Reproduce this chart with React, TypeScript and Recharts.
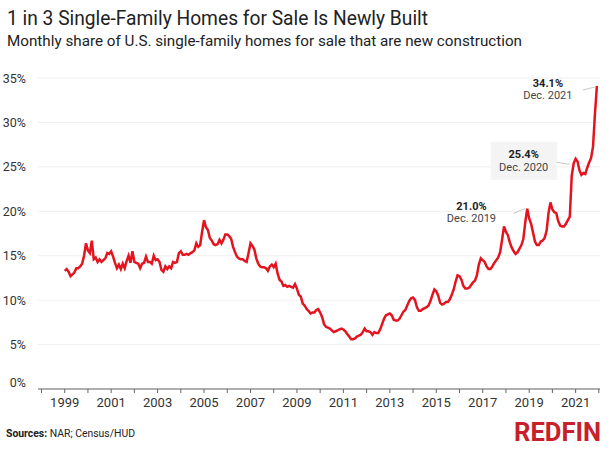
import React from "react";
import {
  LineChart,
  Line,
  XAxis,
  YAxis,
  CartesianGrid,
  ReferenceDot,
} from "recharts";

// monthly share (%) of single-family homes for sale that are new construction, Jan..Dec
const YEARS = [
  1999, 2000, 2001, 2002, 2003, 2004, 2005, 2006, 2007, 2008, 2009, 2010,
  2011, 2012, 2013, 2014, 2015, 2016, 2017, 2018, 2019, 2020, 2021,
];
const v1999 = [13.3, 13.5, 13.2, 12.7, 12.9, 13.1, 13.6, 13.6, 13.8, 14.1, 15.0, 16.4];
const v2000 = [15.6, 15.3, 16.7, 14.6, 14.8, 14.3, 14.6, 14.3, 14.5, 14.7, 15.3, 15.2];
const v2001 = [15.5, 14.9, 14.2, 13.6, 14.0, 13.5, 14.1, 13.6, 14.4, 15.0, 14.2, 15.5];
const v2002 = [14.3, 14.2, 14.1, 13.6, 14.1, 14.2, 14.9, 14.3, 14.3, 14.1, 15.0, 14.5];
const v2003 = [14.6, 14.3, 13.4, 13.2, 13.8, 13.5, 13.8, 13.6, 14.3, 14.2, 14.3, 15.3];
const v2004 = [15.5, 15.1, 15.1, 15.2, 15.1, 15.3, 15.4, 15.6, 16.4, 16.0, 16.2, 17.7];
const v2005 = [19.0, 18.2, 17.9, 17.0, 16.7, 16.3, 16.2, 16.3, 16.8, 16.4, 16.8, 17.4];
const v2006 = [17.4, 17.2, 16.9, 16.0, 15.4, 14.9, 14.7, 14.6, 14.6, 14.4, 14.3, 15.3];
const v2007 = [16.4, 16.1, 15.7, 14.7, 14.1, 13.8, 13.7, 13.7, 13.6, 13.3, 13.8, 14.0];
const v2008 = [13.7, 14.1, 13.0, 12.3, 12.1, 11.6, 11.7, 11.5, 11.6, 11.5, 11.4, 11.8];
const v2009 = [11.3, 10.6, 10.4, 9.6, 9.4, 9.0, 8.8, 8.5, 8.6, 8.6, 8.9, 9.0];
const v2010 = [8.6, 8.1, 7.3, 7.0, 6.9, 6.8, 6.6, 6.4, 6.5, 6.6, 6.7, 6.8];
const v2011 = [6.7, 6.5, 6.2, 5.9, 5.6, 5.6, 5.7, 5.9, 6.0, 6.1, 6.4, 6.8];
const v2012 = [6.5, 6.5, 6.4, 6.1, 6.4, 6.3, 6.3, 6.7, 7.3, 7.9, 8.3, 8.4];
const v2013 = [8.5, 8.3, 7.8, 7.7, 7.7, 7.9, 8.3, 8.7, 8.9, 9.4, 9.9, 10.2];
const v2014 = [10.3, 10.0, 9.2, 8.8, 8.8, 9.0, 9.1, 9.2, 9.4, 9.9, 10.6, 11.2];
const v2015 = [11.0, 10.5, 9.7, 9.5, 9.6, 9.8, 9.8, 10.1, 10.6, 11.2, 12.1, 12.8];
const v2016 = [12.7, 12.3, 11.6, 11.3, 11.3, 11.4, 11.7, 12.0, 12.2, 12.8, 14.0, 14.7];
const v2017 = [14.5, 14.3, 13.8, 13.5, 13.5, 13.8, 14.2, 14.5, 14.8, 15.4, 16.8, 18.3];
const v2018 = [17.7, 17.3, 16.5, 15.9, 15.5, 15.2, 15.4, 15.8, 16.2, 16.9, 18.8, 20.3];
const v2019 = [19.2, 18.6, 17.6, 16.6, 16.2, 16.2, 16.6, 16.7, 17.0, 17.8, 19.8, 21.0];
const v2020 = [20.2, 19.9, 19.8, 18.9, 18.4, 18.3, 18.3, 18.6, 19.0, 19.4, 24.0, 25.4];
const v2021 = [25.9, 25.6, 24.6, 24.1, 24.3, 24.2, 24.9, 25.5, 26.0, 27.3, 31.0, 34.1];

const SERIES = [
  v1999, v2000, v2001, v2002, v2003, v2004, v2005, v2006, v2007, v2008, v2009, v2010,
  v2011, v2012, v2013, v2014, v2015, v2016, v2017, v2018, v2019, v2020, v2021,
];

const X_TICKS = [
  1998, 1999, 2000, 2001, 2002, 2003, 2004, 2005, 2006, 2007, 2008, 2009, 2010,
  2011, 2012, 2013, 2014, 2015, 2016, 2017, 2018, 2019, 2020, 2021, 2022,
];
const Y_TICKS = [0, 5, 10, 15, 20, 25, 30, 35];

// callouts on the December peaks
const CALLOUT_YEARS = [2019, 2020, 2021];
const CALLOUT_VALUES = [21.0, 25.4, 34.1];
const CALLOUT_DATES = ["Dec. 2019", "Dec. 2020", "Dec. 2021"];

const data = YEARS.flatMap((year, i) =>
  SERIES[i].map((v, m) => ({ t: year + m / 12, share: v }))
);

const FONT = "Roboto, 'Noto Sans', sans-serif";
const RED = "#e3141f";

function YTick({ x, y, payload }: any) {
  const lift = payload.value === 0 ? 7 : 0;
  return (
    <text
      x={x}
      y={y - lift}
      dy="0.36em"
      textAnchor="end"
      fill="#333"
      fontSize={12.5}
      fontFamily={FONT}
    >
      {payload.value}%
    </text>
  );
}

// offsets of each callout relative to its data point
const CALLOUT_LAYOUT = [
  { dx: -79, dy: 7.5, line: [-37, 11, -25, 6], box: false },
  { dx: -50, dy: -5, line: [-17, -1, -4, 1], box: true },
  { dx: -49, dy: 1, line: [-14, 4, -2, 1], box: false },
];

function Callout(props: any) {
  const { cx, cy, idx } = props;
  if (cx === undefined || cy === undefined) return null;
  const lay = CALLOUT_LAYOUT[idx];
  const [x1, y1, x2, y2] = lay.line;
  return (
    <g>
      {lay.box && (
        <rect x={cx - 83} y={cy - 21.5} width={66.5} height={38} fill="#f4f4f4" />
      )}
      <line
        x1={cx + x1}
        y1={cy + y1}
        x2={cx + x2}
        y2={cy + y2}
        stroke="#c8c8c8"
        strokeWidth={1}
      />
      <text
        x={cx + lay.dx}
        y={cy + lay.dy}
        textAnchor="middle"
        fontSize={11}
        fontWeight={700}
        fill="#222"
        fontFamily={FONT}
      >
        {CALLOUT_VALUES[idx].toFixed(1)}%
      </text>
      <text
        x={cx + lay.dx}
        y={cy + lay.dy + 12.5}
        textAnchor="middle"
        fontSize={11}
        fill="#444"
        fontFamily={FONT}
      >
        {CALLOUT_DATES[idx]}
      </text>
    </g>
  );
}

export default function App() {
  return (
    <div
      style={{
        position: "absolute",
        left: 0,
        top: 0,
        width: 610,
        height: 450,
        background: "#fff",
      }}
    >
      <LineChart
        width={610}
        height={450}
        data={data}
        margin={{ top: 78, right: 10, bottom: 31, left: 0 }}
      >
        <CartesianGrid vertical={false} stroke="#efefef" />
        <XAxis
          type="number"
          dataKey="t"
          domain={[1997.85, 2022.05]}
          ticks={X_TICKS}
          interval={0}
          tickFormatter={(v: number) => (v % 2 === 1 ? String(v) : "")}
          tick={{ fill: "#333", fontSize: 13, fontFamily: FONT }}
          tickSize={4}
          tickMargin={5}
          stroke="#666"
          height={30}
        />
        <YAxis
          domain={[0, 35]}
          ticks={Y_TICKS}
          tick={<YTick />}
          tickLine={false}
          axisLine={false}
          tickMargin={6}
          width={38}
        />
        <Line
          type="linear"
          dataKey="share"
          stroke={RED}
          strokeWidth={2.5}
          dot={false}
          isAnimationActive={false}
        />
        {CALLOUT_YEARS.map((yr, i) => (
          <ReferenceDot
            key={yr}
            x={yr + 11 / 12}
            y={CALLOUT_VALUES[i]}
            r={0}
            shape={(p: any) => <Callout {...p} idx={i} />}
          />
        ))}
      </LineChart>
      <svg
        width={610}
        height={450}
        style={{ position: "absolute", left: 0, top: 0, pointerEvents: "none" }}
      >
        <text
          x={7}
          y={25}
          fontSize={20}
          fill="#222"
          fontFamily={FONT}
          textLength={421}
          lengthAdjust="spacingAndGlyphs"
        >
          1 in 3 Single-Family Homes for Sale Is Newly Built
        </text>
        <text
          x={7}
          y={46}
          fontSize={15.5}
          fill="#222"
          fontFamily={FONT}
          textLength={515}
          lengthAdjust="spacingAndGlyphs"
        >
          Monthly share of U.S. single-family homes for sale that are new construction
        </text>
        <text
          x={6}
          y={437}
          fontSize={10.5}
          fill="#222"
          fontFamily={FONT}
          textLength={129}
          lengthAdjust="spacingAndGlyphs"
        >
          <tspan fontWeight={700}>Sources:</tspan> NAR; Census/HUD
        </text>
        <text
          x={514}
          y={441}
          fontSize={26}
          fontWeight={700}
          fill="#c8202a"
          fontFamily={FONT}
          textLength={87}
          lengthAdjust="spacingAndGlyphs"
        >
          REDFIN
        </text>
      </svg>
    </div>
  );
}
